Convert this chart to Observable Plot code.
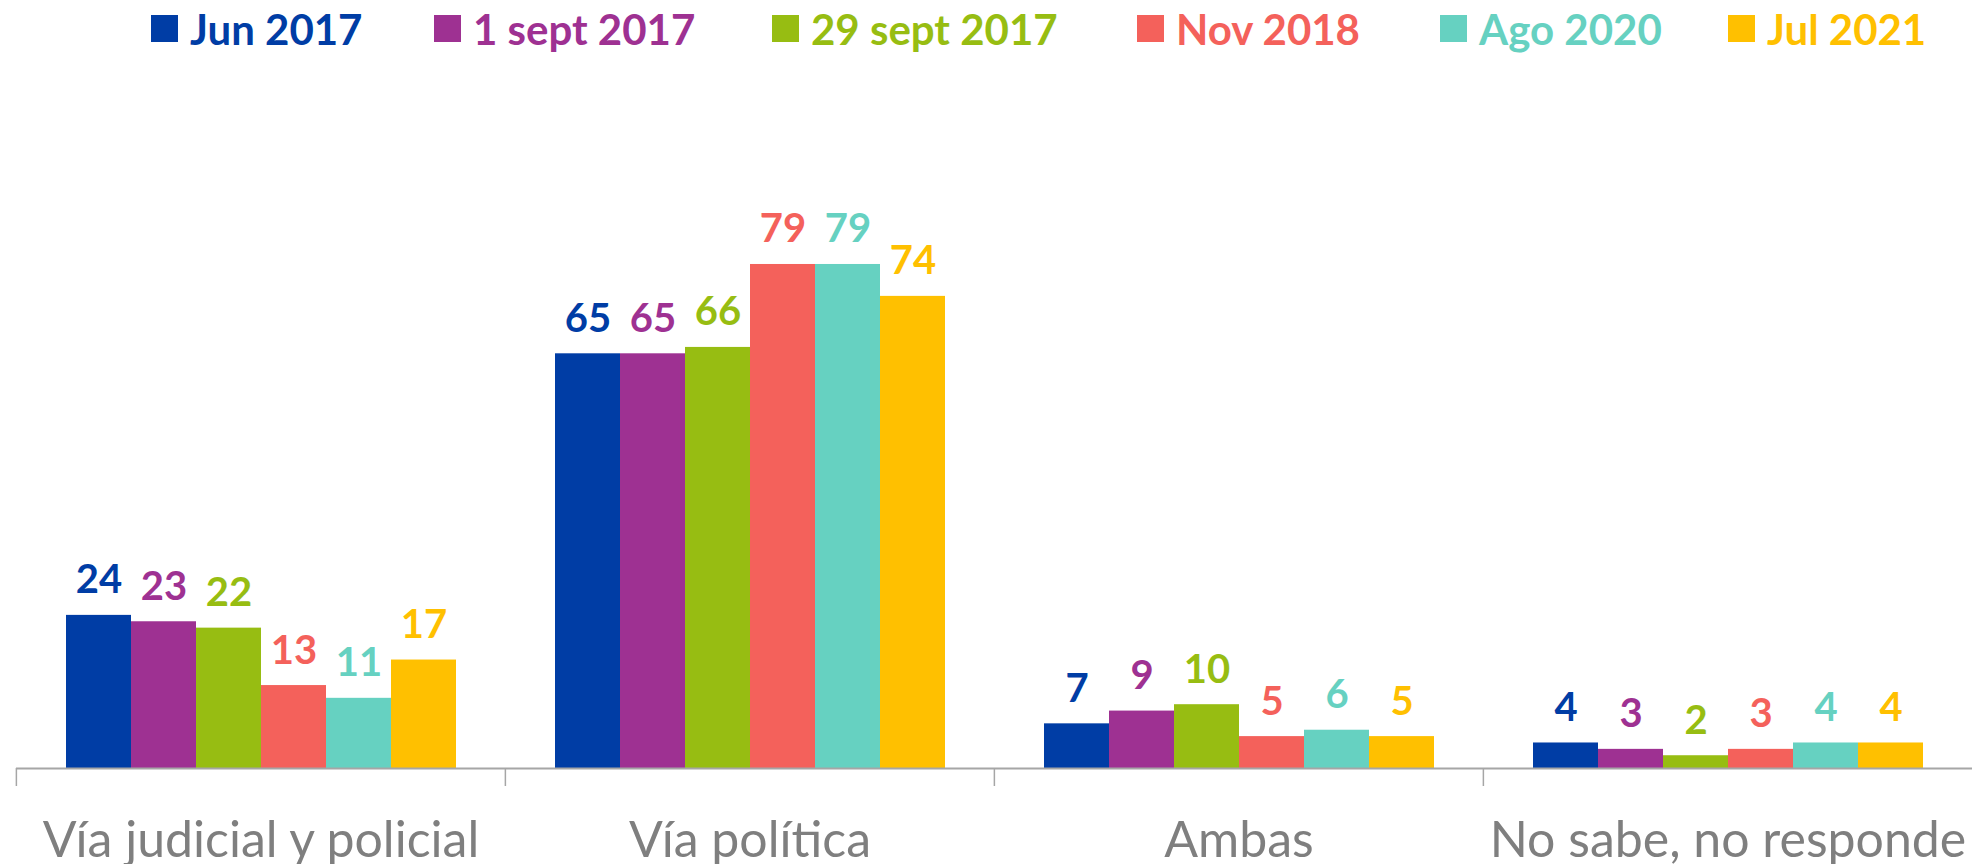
<!DOCTYPE html>
<html>
<head>
<meta charset="utf-8">
<script src="https://cdn.jsdelivr.net/npm/d3@7"></script>
<script src="https://cdn.jsdelivr.net/npm/@observablehq/plot@0.6"></script>
<style>
  html, body { margin: 0; padding: 0; background: #fff; }
  #legend { position: relative; width: 1972px; height: 70px; font-family: Lato, "Open Sans", sans-serif; }
  .item { position: absolute; top: 12px; height: 33px; display: flex; align-items: center; font-weight: bold; font-size: 42px; white-space: nowrap; }
  .sw { width: 27px; height: 27px; margin-right: 12px; }
</style>
</head>
<body>
<div id="legend"></div>
<div id="chart"></div>
<script>
const categories = ["Vía judicial y policial", "Vía política", "Ambas", "No sabe, no responde"];
const series = ["Jun 2017", "1 sept 2017", "29 sept 2017", "Nov 2018", "Ago 2020", "Jul 2021"];
const jun2017 = [24, 65, 7, 4];
const sept1_2017 = [23, 65, 9, 3];
const sept29_2017 = [22, 66, 10, 2];
const nov2018 = [13, 79, 5, 3];
const ago2020 = [11, 79, 6, 4];
const jul2021 = [17, 74, 5, 4];
const seriesValues = [jun2017, sept1_2017, sept29_2017, nov2018, ago2020, jul2021];
const colors = ["#003DA5", "#9E3192", "#97BD12", "#F4615B", "#66D1C1", "#FFC000"];

const table = [];
series.forEach((s, i) => categories.forEach((c, j) => table.push({category: c, series: s, value: seriesValues[i][j]})));

// legend (HTML, above the SVG)
const legendLeft = [151, 434, 772, 1137, 1440, 1728];
const legend = document.getElementById("legend");
series.forEach((s, i) => {
  const it = document.createElement("div");
  it.className = "item";
  it.style.left = legendLeft[i] + "px";
  it.style.color = colors[i];
  const sw = document.createElement("div");
  sw.className = "sw";
  sw.style.background = colors[i];
  it.appendChild(sw);
  it.appendChild(document.createTextNode(s));
  legend.appendChild(it);
});

const W = 1972, H = 794, mL = 15, mR = 0, mT = 60, mB = 96;
const band = (W - mL - mR) / categories.length;

const chart = Plot.plot({
  width: W,
  height: H,
  marginLeft: mL,
  marginRight: mR,
  marginTop: mT,
  marginBottom: mB,
  style: {fontFamily: "Lato, 'Open Sans', sans-serif", background: "#fff", overflow: "visible"},
  fx: {domain: categories, padding: 0, label: null, axis: null},
  x: {domain: series, paddingInner: 0, paddingOuter: 0.75, axis: null},
  y: {domain: [0, 100], axis: null},
  color: {domain: series, range: colors},
  marks: [
    Plot.barY(table, {fx: "category", x: "series", y: "value", fill: "series"}),
    Plot.ruleY([0], {stroke: "#a6a6a6", strokeWidth: 2}),
    Plot.axisFx({anchor: "bottom", tickSize: 18, tickFormat: () => "", dx: -band / 2, stroke: "#a6a6a6", strokeWidth: 1.5}),
    Plot.text(table, {fx: "category", x: "series", y: "value", text: d => String(d.value), fill: "series",
      fontWeight: "bold", fontSize: 40, lineAnchor: "bottom", dy: -22}),
    Plot.text(categories, {fx: d => d, text: d => d, frameAnchor: "bottom", lineAnchor: "bottom", dy: 88,
      fontSize: 50, fill: "#7f7f7f"})
  ]
});
document.getElementById("chart").appendChild(chart);
</script>
</body>
</html>
